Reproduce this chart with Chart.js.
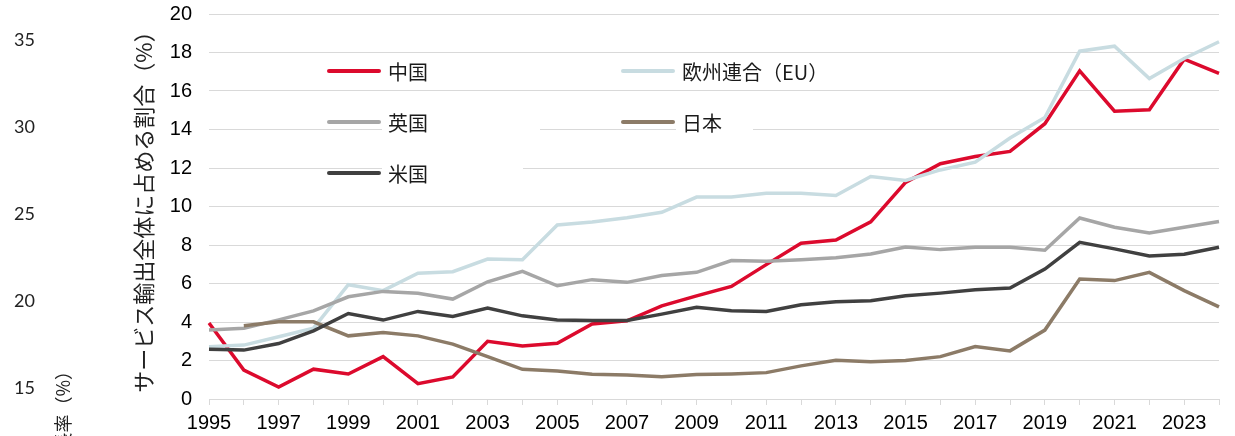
<!DOCTYPE html>
<html lang="ja">
<head>
<meta charset="utf-8">
<title>サービス輸出全体に占める割合</title>
<script src="https://cdn.jsdelivr.net/npm/chart.js@4.4.1/dist/chart.umd.min.js"></script>
<style>
  html, body { margin: 0; padding: 0; background: #fff; }
  #wrap { width: 1235px; height: 436px; }
</style>
</head>
<body>
<div id="wrap"><canvas id="exportShare" width="1235" height="436"></canvas></div>
<script>
// years on the x axis (label shown every other year)
const years = ['1995','1996','1997','1998','1999','2000','2001','2002','2003','2004',
               '2005','2006','2007','2008','2009','2010','2011','2012','2013','2014',
               '2015','2016','2017','2018','2019','2020','2021','2022','2023','2024'];

// share of total service exports (%)
const china = [3.95, 1.5, 0.62, 1.55, 1.3, 2.2, 0.8, 1.15, 3.0, 2.75,
               2.9, 3.9, 4.06, 4.84, 5.36, 5.85, 6.98, 8.09, 8.26, 9.2,
               11.25, 12.22, 12.6, 12.86, 14.3, 17.05, 14.95, 15.02, 17.65, 16.92];
const eu    = [2.72, 2.8, 3.23, 3.68, 5.94, 5.63, 6.53, 6.61, 7.27, 7.24,
               9.04, 9.2, 9.42, 9.7, 10.49, 10.49, 10.69, 10.69, 10.57, 11.56,
               11.35, 11.9, 12.3, 13.56, 14.62, 18.07, 18.33, 16.65, 17.69, 18.56];
const uk    = [3.59, 3.68, 4.11, 4.58, 5.31, 5.59, 5.49, 5.19, 6.09, 6.63,
               5.88, 6.2, 6.06, 6.41, 6.58, 7.19, 7.15, 7.24, 7.34, 7.53,
               7.9, 7.76, 7.88, 7.88, 7.73, 9.4, 8.92, 8.63, 8.92, 9.22];
const japan = [null, 3.8, 4.01, 4.01, 3.28, 3.45, 3.28, 2.85, 2.2, 1.54,
               1.46, 1.28, 1.25, 1.15, 1.27, 1.3, 1.37, 1.72, 2.01, 1.94,
               2.0, 2.2, 2.73, 2.5, 3.58, 6.23, 6.15, 6.58, 5.63, 4.79];
const us    = [2.59, 2.54, 2.88, 3.54, 4.44, 4.1, 4.55, 4.29, 4.72, 4.32,
               4.11, 4.08, 4.08, 4.41, 4.76, 4.58, 4.55, 4.9, 5.05, 5.1,
               5.36, 5.5, 5.68, 5.76, 6.75, 8.14, 7.8, 7.43, 7.52, 7.88];

// leftover ticks of a second (unused) axis at the far left
const ghostTicks = [15, 20, 25, 30, 35];

const GRID = '#d9d9d9';
const TICK_FONT = { family: '"Liberation Sans", Arial, sans-serif', size: 20 };
const JP_FONT = '"Noto Sans CJK JP", sans-serif';

const makeSet = (label, data, color, order) => ({
    label: label,
    data: data,
    borderColor: color,
    backgroundColor: color,
    borderWidth: 3.5,
    pointRadius: 0,
    pointHoverRadius: 0,
    tension: 0,
    spanGaps: false,
    order: order
});

// legend boxes placed inside the plot, two columns like the original
const legendSpots = [
    { x: 327, y: 71,  boxEnd: 532 },   // 中国
    { x: 621, y: 71,  boxEnd: 840 },   // 欧州連合（EU）
    { x: 327, y: 122, boxEnd: 540 },   // 英国
    { x: 621, y: 122, boxEnd: 753 },   // 日本
    { x: 327, y: 173, boxEnd: 523 }    // 米国
];

const insideLegend = {
    id: 'insideLegend',
    afterDraw(chart) {
        const ctx = chart.ctx;
        ctx.save();
        ctx.font = '20px ' + JP_FONT;
        ctx.textBaseline = 'middle';
        chart.data.datasets.forEach((ds, i) => {
            const spot = legendSpots[i];
            const lineEnd = spot.x + 54;
            const textX = lineEnd + 7;
            ctx.fillStyle = '#fff';
            ctx.fillRect(lineEnd + 1, spot.y - 18, spot.boxEnd - lineEnd - 1, 36);
            ctx.strokeStyle = ds.borderColor;
            ctx.lineWidth = 4;
            ctx.lineCap = 'round';
            ctx.beginPath();
            ctx.moveTo(spot.x + 2, spot.y);
            ctx.lineTo(lineEnd - 2, spot.y);
            ctx.stroke();
            ctx.fillStyle = '#1a1a1a';
            ctx.textAlign = 'left';
            ctx.fillText(ds.label, textX, spot.y + 1);
        });
        ctx.restore();
    }
};

// cut-off title of the leftover axis
const ghostTitle = {
    id: 'ghostTitle',
    afterDraw(chart) {
        const ctx = chart.ctx;
        ctx.save();
        ctx.translate(63, 362);
        ctx.rotate(-Math.PI / 2);
        ctx.font = '18px ' + JP_FONT;
        ctx.fillStyle = '#222';
        ctx.textAlign = 'right';
        ctx.textBaseline = 'middle';
        ctx.fillText('成長率（%）', 0, 0);
        ctx.restore();
    }
};

const ctx = document.getElementById('exportShare').getContext('2d');
const chart = new Chart(ctx, {
    type: 'line',
    data: {
        labels: years,
        datasets: [
            makeSet('中国', china, '#dc0a2d', 5),
            makeSet('欧州連合（EU）', eu, '#c8dce1', 4),
            makeSet('英国', uk, '#a6a6a6', 3),
            makeSet('日本', japan, '#8c7b67', 2),
            makeSet('米国', us, '#404040', 1)
        ]
    },
    options: {
        responsive: false,
        animation: false,
        events: [],
        layout: { padding: { top: 14, right: 16, bottom: 0, left: 0 } },
        plugins: {
            legend: { display: false },
            tooltip: { enabled: false },
            title: { display: false }
        },
        scales: {
            x: {
                type: 'category',
                offset: false,
                grid: {
                    display: true,
                    drawOnChartArea: false,
                    drawTicks: true,
                    tickLength: 6,
                    color: GRID,
                    lineWidth: 1
                },
                border: { display: true, color: GRID, width: 1 },
                ticks: {
                    autoSkip: false,
                    maxRotation: 0,
                    minRotation: 0,
                    padding: 6,
                    color: '#000',
                    font: TICK_FONT,
                    callback: function (value, index) {
                        return index % 2 === 0 ? this.getLabelForValue(value) : '';
                    }
                },
                afterFit: (scale) => {
                    scale.height = 37;
                    scale.paddingLeft = 0;
                    scale.paddingRight = 0;
                }
            },
            y: {
                position: 'left',
                weight: 0,
                min: 0,
                max: 20,
                grid: { color: GRID, lineWidth: 1, drawTicks: false },
                border: { display: false },
                ticks: { stepSize: 2, padding: 17, color: '#000', font: TICK_FONT },
                title: {
                    display: true,
                    text: 'サービス輸出全体に占める割合（%）',
                    color: '#222',
                    padding: 0,
                    font: { family: JP_FONT, size: 22 }
                },
                afterFit: (scale) => {
                    scale.width = 79;
                    scale.paddingTop = 0;
                    scale.paddingBottom = 0;
                }
            },
            y2: {
                position: 'left',
                weight: 1,
                min: 14.37,
                max: 36.49,
                grid: { display: false, drawTicks: false },
                border: { display: false },
                ticks: {
                    padding: 95,
                    color: '#222',
                    font: { family: 'Lato, "Open Sans", sans-serif', size: 18 }
                },
                afterBuildTicks: (scale) => {
                    scale.ticks = ghostTicks.map(v => ({ value: v }));
                },
                afterFit: (scale) => {
                    scale.width = 130;
                    scale.paddingTop = 0;
                    scale.paddingBottom = 0;
                }
            }
        }
    },
    plugins: [insideLegend, ghostTitle]
});
</script>
</body>
</html>
